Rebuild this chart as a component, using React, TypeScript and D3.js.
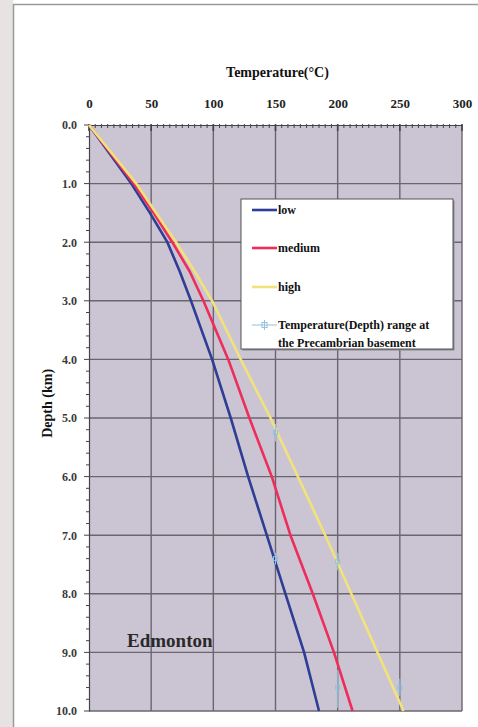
import React, { useEffect, useRef } from 'react';
import * as d3 from 'd3';

// depth (km) and temperature (°C) readings for the three gradient scenarios
const depths = [0, 0.5, 1.0, 1.5, 2.0, 2.5, 3.0, 4.0, 5.0, 6.0, 7.0, 8.0, 9.0, 10.0];
const lowTemp = [0, 17, 34, 49, 63, 73, 82, 99, 114, 128, 143, 158, 173, 185];
const mediumTemp = [0, 18, 36, 52, 67, 81, 92, 112, 129, 147, 162, 180, 197, 212];
const highTemp = [0, 19, 38, 54, 70, 85, 99, 122, 146, 168, 190, 211, 232, 253];

// Precambrian basement temperature / depth ranges (point + depth range)
const basementTemp = [150, 200, 250, 150, 200];
const basementDepth = [5.25, 7.45, 9.6, 7.4, 9.6];
const basementDepthLow = [5.1, 7.3, 9.45, 7.3, 9.3];
const basementDepthHigh = [5.4, 7.6, 9.75, 7.5, 9.95];

const seriesNames = ['low', 'medium', 'high'];
const seriesColors = ['#2d3e94', '#ee2d5b', '#f1e27a'];
const basementLabel = ['Temperature(Depth) range at', 'the Precambrian basement'];

const xTicks = [0, 50, 100, 150, 200, 250, 300];
const yTicks = [0, 1, 2, 3, 4, 5, 6, 7, 8, 9, 10];

export default function App() {
  const svgRef = useRef<SVGSVGElement>(null);

  useEffect(() => {
    const width = 478;
    const height = 727;
    const margin = { top: 125, left: 89, right: 16, bottom: 16 };
    const font = '"Liberation Serif", "DejaVu Serif", serif';

    const svg = d3.select(svgRef.current);
    svg.selectAll('*').remove();

    // page frame
    svg.append('rect').attr('x', 0).attr('y', 0).attr('width', width).attr('height', height).attr('fill', '#ffffff');
    svg.append('rect').attr('x', 0).attr('y', 0).attr('width', 13).attr('height', height).attr('fill', '#e6e3e2');
    svg.append('line').attr('x1', 13).attr('x2', width).attr('y1', 4.5).attr('y2', 4.5)
      .attr('stroke', '#9a9a9a').attr('stroke-width', 1.5);
    svg.append('line').attr('x1', 13.5).attr('x2', 13.5).attr('y1', 4).attr('y2', height)
      .attr('stroke', '#9a9a9a').attr('stroke-width', 1.5);

    const x = d3.scaleLinear().domain([0, 300]).range([margin.left, width - margin.right]);
    const y = d3.scaleLinear().domain([0, 10]).range([margin.top, height - margin.bottom]);

    // plot area
    svg.append('rect')
      .attr('x', x(0)).attr('y', y(0))
      .attr('width', x(300) - x(0)).attr('height', y(10) - y(0))
      .attr('fill', '#cbc4d3');

    // grid
    const grid = svg.append('g').attr('stroke', '#6b6570').attr('stroke-width', 1.4);
    xTicks.slice(1).forEach(t => {
      grid.append('line').attr('x1', x(t)).attr('x2', x(t)).attr('y1', y(0)).attr('y2', y(10));
    });
    yTicks.slice(1).forEach(t => {
      grid.append('line').attr('x1', x(0)).attr('x2', x(300)).attr('y1', y(t)).attr('y2', y(t));
    });

    // top axis
    const xAxis = d3.axisTop(x).tickValues(xTicks).tickSize(0).tickPadding(17);
    const gx = svg.append('g').attr('transform', `translate(0,${y(0)})`).call(xAxis);
    gx.select('.domain').attr('stroke', '#444').attr('stroke-width', 1.2);
    gx.selectAll('text').attr('font-family', font).attr('font-size', 13).attr('font-weight', 'bold')
      .attr('fill', '#222');
    const xMinor = d3.range(0, 301, 5);
    svg.append('g').selectAll('line').data(xMinor).join('line')
      .attr('x1', d => x(d)).attr('x2', d => x(d))
      .attr('y1', y(0) - 1).attr('y2', d => y(0) + (d % 50 === 0 ? 6 : 3))
      .attr('stroke', '#444').attr('stroke-width', d => (d % 50 === 0 ? 1.6 : 1));

    // left axis
    const yAxis = d3.axisLeft(y).tickValues(yTicks).tickSize(0).tickPadding(12)
      .tickFormat(d => d3.format('.1f')(d as number));
    const gy = svg.append('g').attr('transform', `translate(${x(0)},0)`).call(yAxis);
    gy.select('.domain').attr('stroke', '#444').attr('stroke-width', 1.2);
    gy.selectAll('text').attr('font-family', font).attr('font-size', 12).attr('font-weight', 'bold')
      .attr('fill', '#3a3a3a');
    const yMinor = d3.range(0, 10.01, 0.2);
    svg.append('g').selectAll('line').data(yMinor).join('line')
      .attr('x1', d => x(0) - (Math.abs(d - Math.round(d)) < 1e-6 ? 5 : 3)).attr('x2', x(0))
      .attr('y1', d => y(d)).attr('y2', d => y(d))
      .attr('stroke', '#444').attr('stroke-width', 1);

    // axis titles
    svg.append('text')
      .attr('x', (x(0) + x(300)) / 2 + 2).attr('y', 77)
      .attr('text-anchor', 'middle').attr('font-family', font).attr('font-size', 14)
      .attr('font-weight', 'bold').attr('fill', '#111')
      .text('Temperature(°C)');
    svg.append('text')
      .attr('transform', `translate(52,${(y(4.75))}) rotate(-90)`)
      .attr('text-anchor', 'middle').attr('font-family', font).attr('font-size', 14)
      .attr('font-weight', 'bold').attr('fill', '#111')
      .text('Depth (km)');

    // curves
    const line = d3.line<number>()
      .x(d => x(d))
      .y((_, i) => y(depths[i]));
    [lowTemp, mediumTemp, highTemp].forEach((temps, k) => {
      svg.append('path')
        .datum(temps)
        .attr('fill', 'none')
        .attr('stroke', seriesColors[k])
        .attr('stroke-width', 2.6)
        .attr('stroke-linejoin', 'round')
        .attr('d', line);
    });

    // basement ranges
    const bas = svg.append('g').attr('stroke', '#8fc3de').attr('stroke-width', 1);
    basementTemp.forEach((t, i) => {
      bas.append('line').attr('x1', x(t)).attr('x2', x(t))
        .attr('y1', y(basementDepthLow[i])).attr('y2', y(basementDepthHigh[i]));
      bas.append('rect').attr('x', x(t) - 2).attr('y', y(basementDepth[i]) - 2)
        .attr('width', 4).attr('height', 4).attr('fill', 'none');
    });

    // Edmonton label
    svg.append('text')
      .attr('x', 127).attr('y', 647)
      .attr('font-family', font).attr('font-size', 19).attr('font-weight', 'bold')
      .attr('fill', '#2a2a2a')
      .text('Edmonton');

    // legend
    const lg = svg.append('g').attr('transform', 'translate(241,199)');
    lg.append('rect').attr('x', 1.5).attr('y', 1.5).attr('width', 212).attr('height', 150)
      .attr('fill', '#8a8590');
    lg.append('rect').attr('width', 212).attr('height', 150)
      .attr('fill', '#ffffff').attr('stroke', '#555').attr('stroke-width', 1);
    const rowY = [11, 49, 88, 126];
    seriesNames.forEach((name, k) => {
      lg.append('line').attr('x1', 11).attr('x2', 36).attr('y1', rowY[k]).attr('y2', rowY[k])
        .attr('stroke', seriesColors[k]).attr('stroke-width', 2.6);
      lg.append('text').attr('x', 37).attr('y', rowY[k] + 4)
        .attr('font-family', font).attr('font-size', 12).attr('font-weight', 'bold').attr('fill', '#111')
        .text(name);
    });
    const bl = lg.append('g').attr('stroke', '#8fc3de').attr('stroke-width', 1);
    bl.append('line').attr('x1', 11).attr('x2', 36).attr('y1', rowY[3]).attr('y2', rowY[3]);
    bl.append('line').attr('x1', 23.5).attr('x2', 23.5).attr('y1', rowY[3] - 5).attr('y2', rowY[3] + 5);
    bl.append('rect').attr('x', 21).attr('y', rowY[3] - 2.5).attr('width', 5).attr('height', 5).attr('fill', 'none');
    basementLabel.forEach((s, i) => {
      lg.append('text').attr('x', 37).attr('y', rowY[3] + 4 + i * 18)
        .attr('font-family', font).attr('font-size', 12).attr('font-weight', 'bold').attr('fill', '#111')
        .text(s);
    });
  }, []);

  return (
    <svg
      ref={svgRef}
      width={478}
      height={727}
      style={{ position: 'absolute', left: 0, top: 0, display: 'block' }}
    />
  );
}
